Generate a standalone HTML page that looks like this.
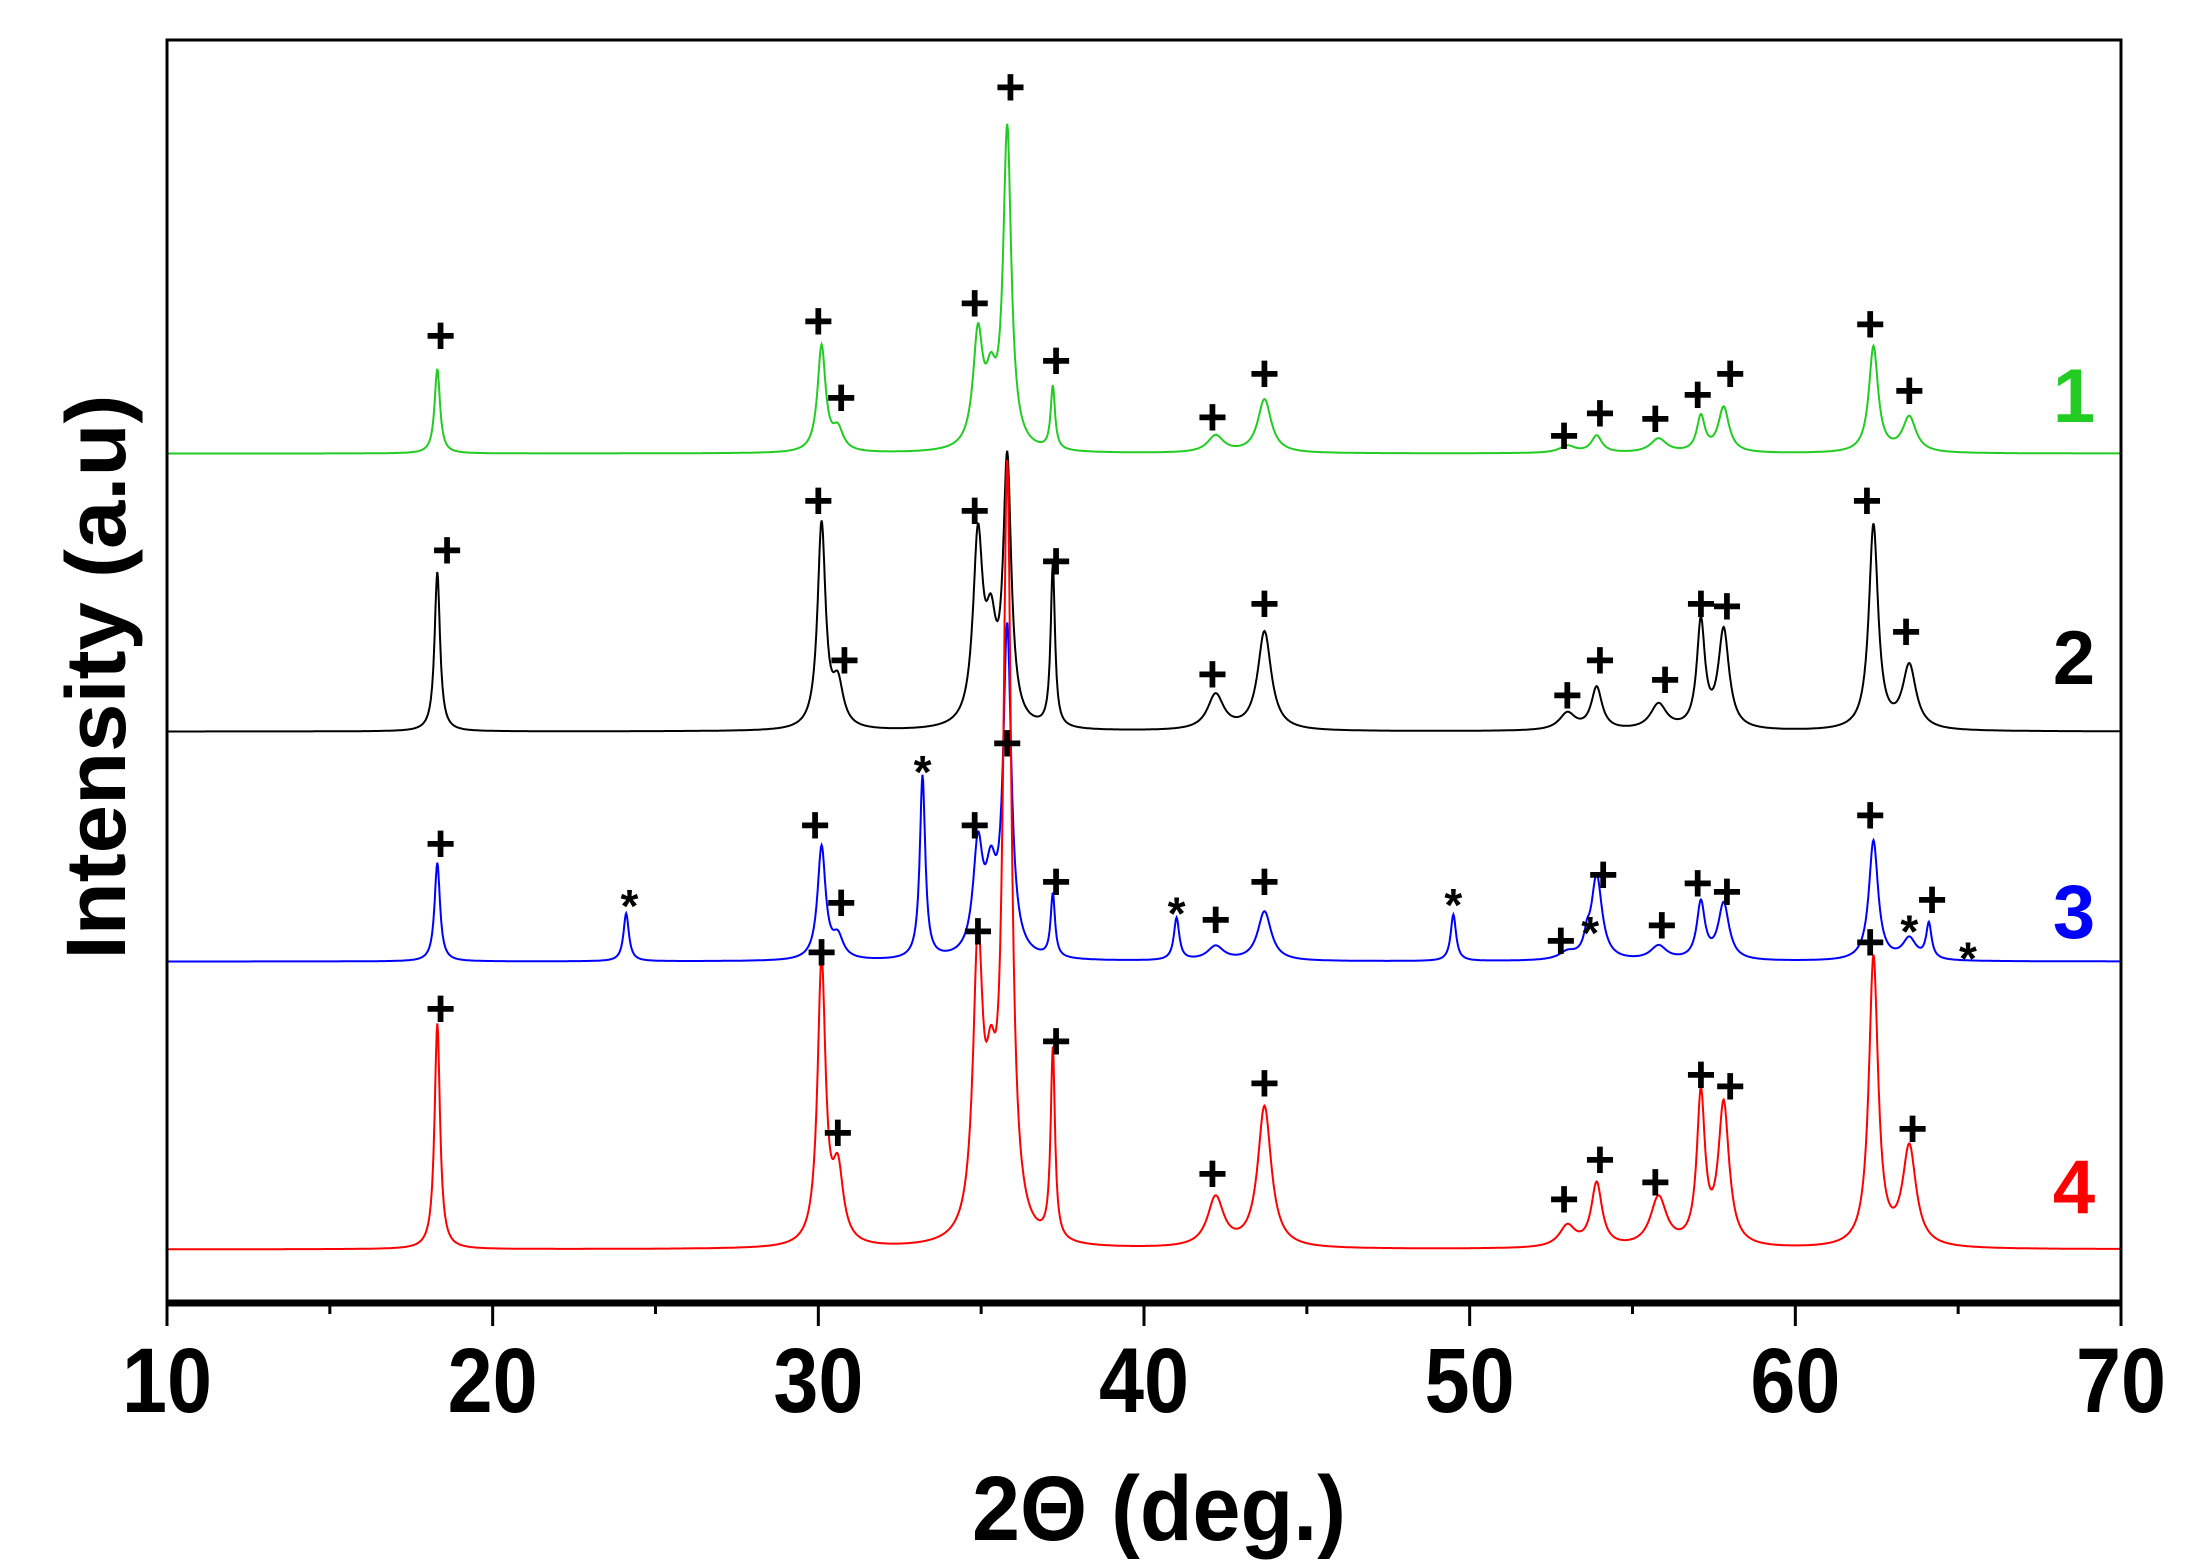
<!DOCTYPE html>
<html><head><meta charset="utf-8"><style>
html,body{margin:0;padding:0;background:#fff;}
svg{display:block;}
text{font-family:"Liberation Sans",Arial,sans-serif;font-weight:bold;}
</style></head><body>
<svg id="chart" width="2194" height="1565" viewBox="0 0 2194 1565" xmlns="http://www.w3.org/2000/svg">
<rect x="0" y="0" width="2194" height="1565" fill="#fff"/>
<g id="series"></g>
<g id="marks"></g>
<rect x="167" y="40" width="1954" height="1263" fill="none" stroke="#000" stroke-width="3"/>
<line x1="166" y1="1303" x2="2122" y2="1303" stroke="#000" stroke-width="7"/>
<g id="xticks"></g>
<text x="1159" y="1540" font-size="92" text-anchor="middle" textLength="374" lengthAdjust="spacingAndGlyphs">2Θ (deg.)</text>
<text transform="translate(125,677) rotate(-90)" font-size="84" text-anchor="middle" textLength="565" lengthAdjust="spacingAndGlyphs">Intensity (a.u)</text>
<text x="2074" y="422" font-size="76" fill="#22cc22" text-anchor="middle">1</text>
<text x="2074" y="684" font-size="76" fill="#000" text-anchor="middle">2</text>
<text x="2074" y="938" font-size="76" fill="#0000ff" text-anchor="middle">3</text>
<text x="2074" y="1213" font-size="76" fill="#ff0000" text-anchor="middle">4</text>
</svg>
<script>
const xTicks = [10,20,30,40,50,60,70];
const xMinor = [15,25,35,45,55,65];
const peakPos = [18.3,30.1,30.6,34.9,35.3,35.8,37.2,42.2,43.7,53.0,53.9,55.8,57.1,57.8,62.4,63.5];
const peakWidth = [0.1,0.15,0.2,0.18,0.2,0.15,0.08,0.3,0.25,0.3,0.2,0.3,0.15,0.2,0.17,0.25];
const greenH = [60,75,15,78,40,225,45,12,38,5,12,10,25,32,75,25];
const blackH = [113,145,30,130,60,185,115,25,70,12,30,18,75,70,145,45];
const blueH = [70,80,15,75,50,230,45,10,35,5,60,10,40,40,85,15];
const redH = [160,200,50,200,80,540,135,35,100,15,45,35,105,100,205,70];
const blueExtraPos = [24.1,33.2,41.0,49.5,53.6,64.1];
const blueExtraH = [34,130,30,33,10,25];
const offsets = {green:602, black:405, blue:242, red:38};
const plusMarks = [
 [18.4,238],[30.0,228],[30.7,282],[34.8,215],[35.9,62],[37.3,256],[42.1,296],[43.7,265],[52.9,309],[54.0,293],[55.7,297],[57.0,280],[58.0,265],[62.3,230],[63.5,277],
 [18.6,390],[30.0,355],[30.8,468],[34.8,362],[37.3,398],[42.1,478],[43.7,428],[53.0,493],[54.0,468],[56.0,482],[57.1,428],[57.9,430],[62.2,355],[63.4,448],
 [18.4,598],[29.9,585],[30.7,640],[34.8,585],[35.8,527],[37.3,625],[42.2,652],[43.7,625],[52.8,667],[54.1,620],[55.9,656],[57.0,626],[57.9,632],[62.3,578],[64.2,638],
 [18.4,715],[30.1,675],[30.6,803],[34.9,660],[37.3,738],[42.1,832],[43.7,768],[52.9,850],[54.0,822],[55.7,838],[57.1,762],[58.0,770],[62.3,668],[63.6,800]];
const starMarks = [[24.2,638],[33.2,543],[41.0,643],[49.5,637],[53.7,657],[63.5,656],[65.3,675]];

const X0=167,X1=2121,YB=1303,K=1.411;
const sx = v => X0 + (v-10)/60*(X1-X0);
const sy = v => YB - v*K;
const NS='http://www.w3.org/2000/svg';
function profile(x, pos, h, w){let s=0;for(let i=0;i<pos.length;i++){const d=(x-pos[i])/w[i];s+=h[i]/(1+d*d);}return s;}
function drawSeries(name,color,heights,off,extraPos,extraH){
  let d='';
  for(let i=0;i<=3000;i++){
    const x=10+i*0.02;
    let v=off+profile(x,peakPos,heights,peakWidth);
    if(extraPos) v+=profile(x,extraPos,extraH,extraPos.map(()=>0.1));
    d+=(i?'L':'M')+sx(x).toFixed(1)+' '+sy(v).toFixed(1);
  }
  const p=document.createElementNS(NS,'path');
  p.setAttribute('d',d);p.setAttribute('fill','none');p.setAttribute('stroke',color);p.setAttribute('stroke-width','2');
  
  
  document.getElementById('series').appendChild(p);
}
drawSeries('1-green','#22cc22',greenH,offsets.green);
drawSeries('2-black','#000',blackH,offsets.black);
drawSeries('3-blue','#0000ff',blueH,offsets.blue,blueExtraPos,blueExtraH);
drawSeries('4-red','#ff0000',redH,offsets.red);

const tg=document.getElementById('xticks');
xTicks.forEach(t=>{
  const l=document.createElementNS(NS,'line');
  l.setAttribute('x1',sx(t));l.setAttribute('x2',sx(t));l.setAttribute('y1',1303);l.setAttribute('y2',1326);
  l.setAttribute('stroke','#000');l.setAttribute('stroke-width','3');
  
  
  tg.appendChild(l);
  const tx=document.createElementNS(NS,'text');
  tx.setAttribute('x',sx(t));tx.setAttribute('y',1412);tx.setAttribute('font-size','92');
  tx.setAttribute('text-anchor','middle');tx.setAttribute('textLength','90');tx.setAttribute('lengthAdjust','spacingAndGlyphs');
  tx.textContent=t;
  
  
  tg.appendChild(tx);
});
xMinor.forEach(t=>{
  const l=document.createElementNS(NS,'line');
  l.setAttribute('x1',sx(t));l.setAttribute('x2',sx(t));l.setAttribute('y1',1303);l.setAttribute('y2',1314);
  l.setAttribute('stroke','#000');l.setAttribute('stroke-width','3');
  
  
  tg.appendChild(l);
});
const mg=document.getElementById('marks');
function mark(m,sym,size,dy){
  const tx=document.createElementNS(NS,'text');
  tx.setAttribute('x',sx(m[0]));tx.setAttribute('y',m[1]*K+dy);
  tx.setAttribute('font-size',size);tx.setAttribute('text-anchor','middle');
  tx.textContent=sym;
  
  
  mg.appendChild(tx);
}
plusMarks.forEach(m=>mark(m,'+',52,17));
starMarks.forEach(m=>mark(m,'*',46,22));
</script>
</body></html>
